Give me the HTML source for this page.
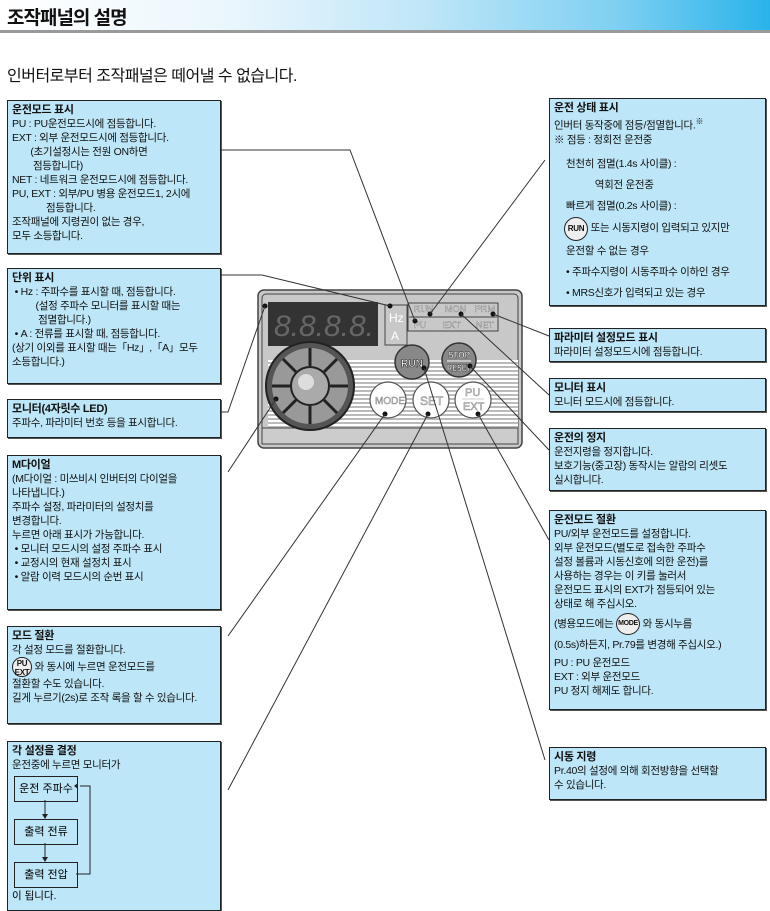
<!DOCTYPE html>
<html><head><meta charset="utf-8"><style>
body{margin:0;width:770px;height:906px;background:#fff;position:relative;overflow:hidden;font-family:"Liberation Sans","Noto Sans CJK KR",sans-serif;}
.hdr{position:absolute;left:0;top:0;width:770px;height:30px;background:linear-gradient(90deg,#fff 0%,#eaf6fd 30%,#bfe6f8 55%,#7fd0f2 80%,#29b3ea 100%);border-bottom:3px solid #9a9a9a;}
.hdr span{position:absolute;left:7px;top:3px;font-size:19px;font-weight:bold;color:#111;letter-spacing:-1px}
.sub{position:absolute;left:7px;top:62px;font-size:16px;color:#111;letter-spacing:-0.5px}
.b{position:absolute;background:#bde6f8;border:1px solid #222;box-shadow:1px 1px 0 #555;font-size:10.5px;line-height:14px;color:#111;padding:2px 4px;box-sizing:border-box;letter-spacing:-0.3px;white-space:nowrap}
.b b{font-weight:bold;font-size:11px}
.fb{position:absolute;border:1px solid #222;font-size:11px;text-align:center;line-height:24px;background:#bde6f8}
svg{position:absolute;left:0;top:0}
</style></head><body>
<div class="hdr"><span>조작패널의 설명</span></div>
<div class="sub">인버터로부터 조작패널은 떼어낼 수 없습니다.</div>

<div class="b" style="left:7px;top:100px;width:214px;height:154px"><b>운전모드 표시</b><br>PU : PU운전모드시에 점등합니다.<br>EXT : 외부 운전모드시에 점등합니다.<br>&nbsp;&nbsp;&nbsp;&nbsp;&nbsp;&nbsp;&nbsp;(초기설정시는 전원 ON하면<br>&nbsp;&nbsp;&nbsp;&nbsp;&nbsp;&nbsp;&nbsp;&nbsp;점등합니다)<br>NET : 네트워크 운전모드시에 점등합니다.<br>PU, EXT : 외부/PU 병용 운전모드1, 2시에<br>&nbsp;&nbsp;&nbsp;&nbsp;&nbsp;&nbsp;&nbsp;&nbsp;&nbsp;&nbsp;&nbsp;&nbsp;&nbsp;점등합니다.<br>조작패널에 지령권이 없는 경우,<br>모두 소등합니다.</div>
<div class="b" style="left:7px;top:268px;width:214px;height:116px"><b>단위 표시</b><br>&nbsp;• Hz : 주파수를 표시할 때, 점등합니다.<br>&nbsp;&nbsp;&nbsp;&nbsp;&nbsp;&nbsp;&nbsp;&nbsp;&nbsp;(설정 주파수 모니터를 표시할 때는<br>&nbsp;&nbsp;&nbsp;&nbsp;&nbsp;&nbsp;&nbsp;&nbsp;&nbsp;&nbsp;점멸합니다.)<br>&nbsp;• A : 전류를 표시할 때, 점등합니다.<br>(상기 이외를 표시할 때는「Hz」,「A」모두<br>소등합니다.)</div>
<div class="b" style="left:7px;top:399px;width:214px;height:39px"><b>모니터(4자릿수 LED)</b><br>주파수, 파라미터 번호 등을 표시합니다.</div>
<div class="b" style="left:7px;top:455px;width:214px;height:155px"><b>M다이얼</b><br>(M다이얼 : 미쓰비시 인버터의 다이얼을<br>나타냅니다.)<br>주파수 설정, 파라미터의 설정치를<br>변경합니다.<br>누르면 아래 표시가 가능합니다.<br>&nbsp;• 모니터 모드시의 설정 주파수 표시<br>&nbsp;• 교정시의 현재 설정치 표시<br>&nbsp;• 알람 이력 모드시의 순번 표시</div>
<div class="b" style="left:7px;top:626px;width:214px;height:98px"><b>모드 절환</b><br>각 설정 모드를 절환합니다.<br><span style="display:inline-block;width:20px;height:20px;border:1.5px solid #222;border-radius:50%;background:#eee;font-size:8px;line-height:9px;text-align:center;font-weight:bold;vertical-align:middle;box-sizing:border-box;padding-top:1px">PU<br>EXT</span> 와 동시에 누르면 운전모드를<br>절환할 수도 있습니다.<br>길게 누르기(2s)로 조작 록을 할 수 있습니다.</div>
<div class="b" style="left:7px;top:741px;width:214px;height:170px"><b>각 설정을 결정</b><br>운전중에 누르면 모니터가</div>
<div class="fb" style="left:14px;top:776px;width:62px;height:24px">운전 주파수</div>
<div class="fb" style="left:14px;top:819px;width:62px;height:24px">출력 전류</div>
<div class="fb" style="left:14px;top:862px;width:62px;height:24px">출력 전압</div>
<div style="position:absolute;left:12px;top:888px;font-size:10.5px">이 됩니다.</div>

<div class="b" style="left:549px;top:98px;width:217px;height:208px"><b>운전 상태 표시</b><br>인버터 동작중에 점등/점멸합니다.<sup style="font-size:8px">※</sup><br>※ 점등 : 정회전 운전중<br><div style="margin:7px 0 0 12px;line-height:21px">천천히 점멸(1.4s 사이클) :<br>&nbsp;&nbsp;&nbsp;&nbsp;&nbsp;&nbsp;&nbsp;&nbsp;&nbsp;&nbsp;&nbsp;역회전 운전중<br>빠르게 점멸(0.2s 사이클) :<br><span style="display:inline-block;width:24px;height:24px;margin-left:-2px;border:1.5px solid #222;border-radius:50%;background:#eee;font-size:8px;line-height:21px;text-align:center;font-weight:bold;box-sizing:border-box">RUN</span> 또는 시동지령이 입력되고 있지만<br>운전할 수 없는 경우<br>• 주파수지령이 시동주파수 이하인 경우<br>• MRS신호가 입력되고 있는 경우</div></div>
<div class="b" style="left:549px;top:328px;width:217px;height:34px"><b>파라미터 설정모드 표시</b><br>파라미터 설정모드시에 점등합니다.</div>
<div class="b" style="left:549px;top:378px;width:217px;height:34px"><b>모니터 표시</b><br>모니터 모드시에 점등합니다.</div>
<div class="b" style="left:549px;top:428px;width:217px;height:63px"><b>운전의 정지</b><br>운전지령을 정지합니다.<br>보호기능(중고장) 동작시는 알람의 리셋도<br>실시합니다.</div>
<div class="b" style="left:549px;top:510px;width:217px;height:200px"><b>운전모드 절환</b><br>PU/외부 운전모드를 설정합니다.<br>외부 운전모드(별도로 접속한 주파수<br>설정 볼륨과 시동신호에 의한 운전)를<br>사용하는 경우는 이 키를 눌러서<br>운전모드 표시의 EXT가 점등되어 있는<br>상태로 해 주십시오.<br><div style="line-height:21px;margin-top:2px">(병용모드에는 <span style="display:inline-block;width:24px;height:22px;border:1.5px solid #222;border-radius:50%;background:#eee;font-size:7px;line-height:19px;text-align:center;font-weight:bold;box-sizing:border-box;vertical-align:middle">MODE</span> 와 동시누름<br>(0.5s)하든지, Pr.79를 변경해 주십시오.)</div>PU : PU 운전모드<br>EXT : 외부 운전모드<br>PU 정지 해제도 합니다.</div>
<div class="b" style="left:549px;top:747px;width:217px;height:53px"><b>시동 지령</b><br>Pr.40의 설정에 의해 회전방향을 선택할<br>수 있습니다.</div>

<svg width="770" height="906" viewBox="0 0 770 906">
<defs>
<pattern id="st" width="4" height="4" patternUnits="userSpaceOnUse"><rect width="4" height="2" fill="#fff"/><rect y="2" width="4" height="2" fill="#bbb"/></pattern>
</defs>
<g stroke="#222" fill="none" stroke-width="1">
<line x1="45" y1="800" x2="45" y2="816"/><line x1="45" y1="843" x2="45" y2="859"/>
<polyline points="76,874 90,874 90,786 80,786"/>
</g>
<polygon points="42,814 48,814 45,819" fill="#222"/><polygon points="42,857 48,857 45,862" fill="#222"/><polygon points="78,783 78,789 74,786" fill="#222"/>

<rect x="258" y="290" width="264" height="158" rx="6" fill="#c8c8c8" stroke="#444" stroke-width="1.5"/>
<rect x="262" y="294" width="256" height="150" rx="4" fill="none" stroke="#444"/>
<rect x="268" y="360" width="250" height="70" fill="url(#st)"/>
<rect x="262" y="428" width="256" height="16" fill="#ccc" stroke="#444"/>
<rect x="268" y="302" width="110" height="44" fill="#333"/>
<text x="274" y="336" font-family="Liberation Sans,sans-serif" font-size="30" fill="#666" font-style="italic" textLength="100" lengthAdjust="spacingAndGlyphs">8.8.8.8.</text>
<rect x="385" y="305" width="22" height="40" fill="#c8c8c8" stroke="#444"/>
<text x="389" y="322" font-size="12" fill="#fff" font-family="Liberation Sans">Hz</text>
<text x="391" y="340" font-size="12" fill="#fff" font-family="Liberation Sans">A</text>
<rect x="408" y="303" width="90" height="28" fill="#c8c8c8" stroke="#444"/>
<line x1="409" y1="317" x2="497" y2="317" stroke="#444"/>
<g font-size="9" fill="#fff" font-family="Liberation Sans" stroke="#555" stroke-width="0.3">
<text x="414" y="312">RUN</text><text x="445" y="312">MON</text><text x="475" y="312">PRM</text>
<text x="414" y="328">PU</text><text x="443" y="328">EXT</text><text x="476" y="328">NET</text></g>
<circle cx="310" cy="386" r="44" fill="#555" stroke="#222" stroke-width="2"/>
<circle cx="310" cy="386" r="38" fill="#999"/>
<g stroke="#222" stroke-width="3">
<line x1="310" y1="348" x2="310" y2="366"/><line x1="310" y1="406" x2="310" y2="424"/>
<line x1="272" y1="386" x2="290" y2="386"/><line x1="330" y1="386" x2="348" y2="386"/>
<line x1="283" y1="359" x2="296" y2="372"/><line x1="324" y1="400" x2="337" y2="413"/>
<line x1="337" y1="359" x2="324" y2="372"/><line x1="296" y1="400" x2="283" y2="413"/></g>
<circle cx="310" cy="386" r="19" fill="#aaa" stroke="#222" stroke-width="2"/>
<circle cx="306" cy="382" r="8" fill="#ddd"/>
<circle cx="412" cy="362" r="17" fill="#888" stroke="#333" stroke-width="1.5"/>
<text x="401" y="367" font-size="11" font-weight="bold" fill="#fff" font-family="Liberation Sans" stroke="#222" stroke-width="0.6" textLength="22" lengthAdjust="spacingAndGlyphs">RUN</text>
<circle cx="459" cy="360" r="17" fill="#888" stroke="#333" stroke-width="1.5"/>
<text x="448" y="358" font-size="9" font-weight="bold" fill="#fff" font-family="Liberation Sans" stroke="#222" stroke-width="0.4" textLength="22" lengthAdjust="spacingAndGlyphs">STOP</text>
<line x1="447" y1="361" x2="471" y2="361" stroke="#fff"/>
<text x="447" y="371" font-size="9" font-weight="bold" fill="#fff" font-family="Liberation Sans" stroke="#222" stroke-width="0.4" textLength="24" lengthAdjust="spacingAndGlyphs">RESET</text>
<g fill="#fff" stroke="#555" stroke-width="1.2"><circle cx="388" cy="400" r="18"/><circle cx="431" cy="400" r="18"/><circle cx="473" cy="400" r="18"/></g>
<g font-family="Liberation Sans" fill="#ddd" stroke="#888" stroke-width="0.5">
<text x="375" y="404" font-size="10">MODE</text><text x="420" y="405" font-size="12">SET</text>
<text x="465" y="396" font-size="11">PU</text><line x1="462" y1="399" x2="484" y2="399" stroke="#999"/><text x="463" y="410" font-size="11">EXT</text></g>
<g fill="#111"><circle cx="265" cy="306" r="2.5"/><circle cx="390" cy="306" r="2.5"/><circle cx="430" cy="314" r="2.5"/><circle cx="461" cy="314" r="2.5"/><circle cx="493" cy="314" r="2.5"/><circle cx="415" cy="321" r="2.5"/><circle cx="424" cy="368" r="2.5"/><circle cx="470" cy="366" r="2.5"/><circle cx="385" cy="414" r="2.5"/><circle cx="428" cy="414" r="2.5"/><circle cx="478" cy="414" r="2.5"/><circle cx="276" cy="399" r="2.5"/></g>
<g stroke="#333" stroke-width="1" fill="none">
<polyline points="221,150 350,150 415,321"/>
<polyline points="221,275 262,275 390,306"/>
<polyline points="221,412 228,412 265,306"/>
<line x1="228" y1="472" x2="276" y2="399"/>
<line x1="228" y1="636" x2="385" y2="414"/>
<line x1="228" y1="790" x2="428" y2="414"/>
<line x1="545" y1="160" x2="430" y2="314"/>
<line x1="549" y1="336" x2="493" y2="314"/>
<line x1="549" y1="395" x2="461" y2="314"/>
<line x1="549" y1="450" x2="470" y2="366"/>
<line x1="549" y1="540" x2="478" y2="414"/>
<line x1="545" y1="760" x2="424" y2="368"/>
</g>
</svg>
</body></html>
